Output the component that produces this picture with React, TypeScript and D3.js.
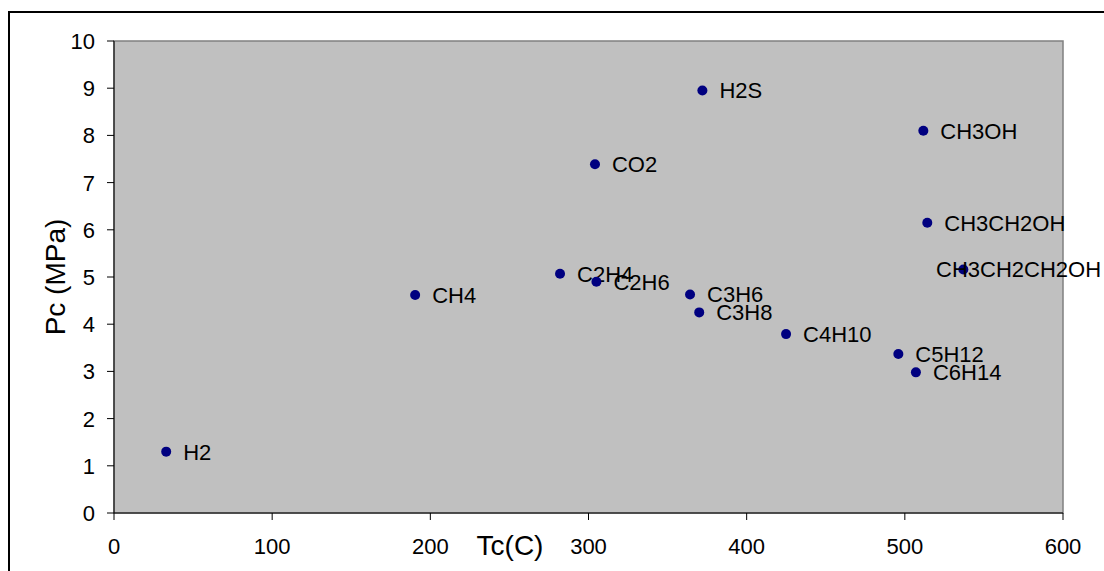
import React from "react";
import * as d3 from "d3";

// Critical temperature (Tc) and critical pressure (Pc) of common gases and liquids
const compounds = [
  "H2", "CH4", "C2H4", "C2H6", "CO2", "H2S", "C3H6", "C3H8",
  "C4H10", "C5H12", "C6H14", "CH3OH", "CH3CH2OH", "CH3CH2CH2OH",
];
const tc = [33, 190.4, 282, 305, 304.1, 372, 364.2, 370, 424.9, 495.9, 507, 511.7, 514.2, 537];
const pc = [1.3, 4.62, 5.07, 4.9, 7.39, 8.95, 4.63, 4.25, 3.79, 3.37, 2.98, 8.1, 6.15, 5.16];

const xTicks = [0, 100, 200, 300, 400, 500, 600];
const yTicks = [0, 1, 2, 3, 4, 5, 6, 7, 8, 9, 10];

const W = 1104;
const H = 571;
const plot = { left: 114, right: 1063, top: 41, bottom: 513 };
const FONT = "'Liberation Sans', Arial, sans-serif";
const LABEL_SIZE = 22;
const LABEL_LIMIT = 1101; // labels are pulled back so they end inside the chart

// Arial advance widths (em) for the glyphs used in labels
const ADV: Record<string, number> = {
  C: 0.722, H: 0.722, O: 0.778, S: 0.667, "2": 0.556, "3": 0.556,
  "4": 0.556, "5": 0.556, "6": 0.556, "0": 0.556, "1": 0.556, "8": 0.556,
};
const textWidth = (s: string, size: number) =>
  s.split("").reduce((w, ch) => w + (ADV[ch] ?? 0.6), 0) * size;

export default function App() {
  const x = d3.scaleLinear().domain([0, 600]).range([plot.left, plot.right]);
  const y = d3.scaleLinear().domain([0, 10]).range([plot.bottom, plot.top]);

  return (
    <svg
      width={W}
      height={H}
      style={{ position: "absolute", left: 0, top: 0, background: "#fff" }}
      fontFamily={FONT}
    >
      {/* chart frame */}
      <rect x={9} y={12} width={1300} height={800} fill="#fff" stroke="#000" strokeWidth={2} />

      {/* plot area */}
      <rect
        x={plot.left}
        y={plot.top}
        width={plot.right - plot.left}
        height={plot.bottom - plot.top}
        fill="#C0C0C0"
        stroke="#808080"
        strokeWidth={1.5}
      />

      {/* y axis */}
      <line x1={plot.left} x2={plot.left} y1={plot.top} y2={plot.bottom} stroke="#000" strokeWidth={1} />
      {yTicks.map((t) => (
        <g key={"y" + t}>
          <line x1={plot.left - 7} x2={plot.left} y1={y(t)} y2={y(t)} stroke="#000" />
          <text x={95} y={y(t)} dy="0.36em" textAnchor="end" fontSize={LABEL_SIZE} fill="#000">
            {t}
          </text>
        </g>
      ))}

      {/* x axis */}
      <line x1={plot.left} x2={plot.right} y1={plot.bottom} y2={plot.bottom} stroke="#000" strokeWidth={1} />
      {xTicks.map((t) => (
        <g key={"x" + t}>
          <line x1={x(t)} x2={x(t)} y1={plot.bottom} y2={plot.bottom + 7} stroke="#000" />
          <text x={x(t)} y={554} textAnchor="middle" fontSize={LABEL_SIZE} fill="#000">
            {t}
          </text>
        </g>
      ))}

      {/* axis titles */}
      <text x={510} y={555} textAnchor="middle" fontSize={28} fill="#000">
        Tc(C)
      </text>
      <text
        transform="translate(65,277) rotate(-90)"
        textAnchor="middle"
        fontSize={28}
        fill="#000"
      >
        Pc (MPa)
      </text>

      {/* points and labels */}
      {compounds.map((name, i) => {
        const cx = x(tc[i]);
        const cy = y(pc[i]);
        const w = textWidth(name, LABEL_SIZE);
        const lx = Math.min(cx + 17, LABEL_LIMIT - w);
        return (
          <g key={name}>
            <circle cx={cx} cy={cy} r={5} fill="#000080" />
            <text x={lx} y={cy} dy="0.36em" fontSize={LABEL_SIZE} fill="#000">
              {name}
            </text>
          </g>
        );
      })}
    </svg>
  );
}
